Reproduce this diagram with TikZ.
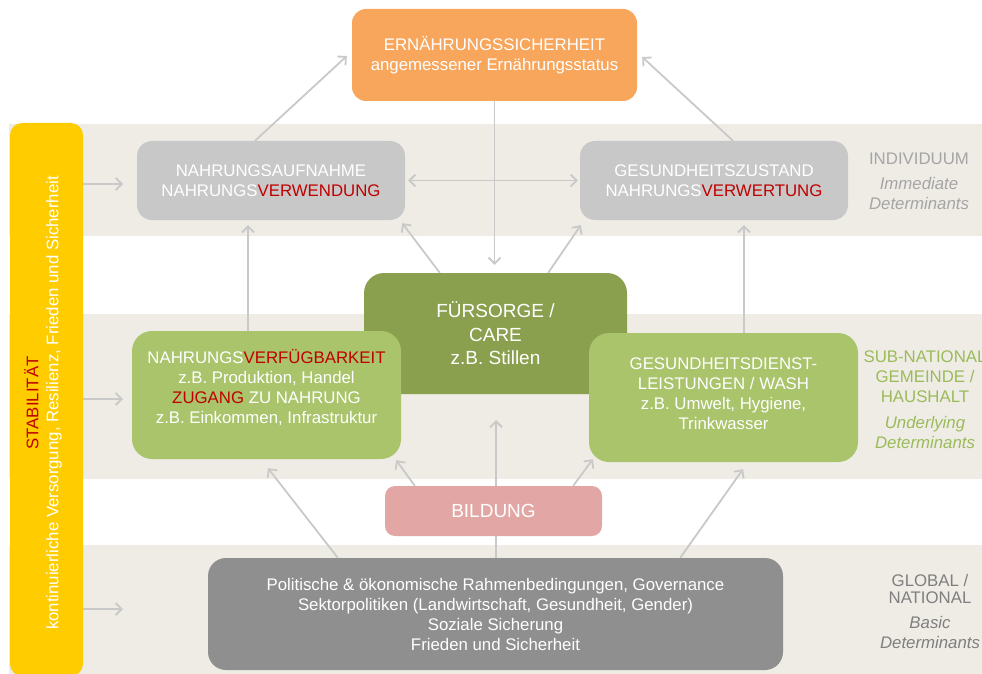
\documentclass[tikz,border=0pt]{standalone}
\usepackage{fontspec}
\setmainfont{Liberation Sans}
\usetikzlibrary{arrows.meta}
\definecolor{bandc}{HTML}{EFECE6}
\definecolor{orangec}{HTML}{F8A65B}
\definecolor{grayboxc}{HTML}{C8C8C8}
\definecolor{darkgc}{HTML}{8AA04E}
\definecolor{lightgc}{HTML}{A9C46B}
\definecolor{pinkc}{HTML}{E2A7A5}
\definecolor{basisc}{HTML}{8F8F8F}
\definecolor{yellowc}{HTML}{FFCC00}
\definecolor{redc}{HTML}{C00000}
\definecolor{arrowc}{HTML}{C9C9C9}
\definecolor{labgray}{HTML}{A5A5A5}
\definecolor{labdark}{HTML}{7F7F7F}
\definecolor{labgreen}{HTML}{9BBB59}
\begin{document}
\begin{tikzpicture}[x=1pt,y=-1pt,
  box/.style={rectangle, inner sep=0pt, align=center, text=white},
  txtA/.style={font={\fontsize{16.8}{20}\selectfont}},
  txtB/.style={font={\fontsize{19}{23.5}\selectfont}},
  lab/.style={align=center, inner sep=0pt, font={\fontsize{16.8}{20}\selectfont}},
  arr/.style={draw=arrowc, line width=1.8pt, -{Straight Barb[length=6pt,width=12pt]}},
  arrb/.style={draw=arrowc, line width=1.8pt, {Straight Barb[length=6pt,width=12pt]}-{Straight Barb[length=6pt,width=12pt]}},
  plainline/.style={draw=arrowc, line width=1.8pt}]
\useasboundingbox (0,0) rectangle (982,674);
\clip (0,0) rectangle (982,674);
% bands
\fill[bandc] (9,124) rectangle (982,236);
\fill[bandc] (9,314) rectangle (982,479);
\fill[bandc] (9,545) rectangle (982,674);
% stability bar
\node[fill=yellowc, rounded corners=12pt, minimum width=73pt, minimum height=553pt, inner sep=0pt] (stab) at (46.5,399.5) {};
\node[rotate=90, align=center, text=white, txtA, inner sep=0pt] (stabt) at (43,403)
  {\textcolor{redc}{STABILITÄT}\\kontinuierliche Versorgung, Resilienz, Frieden und Sicherheit};
% boxes
\node[box, txtA, fill=orangec, rounded corners=14pt, minimum width=285pt, minimum height=92pt] (ziel) at (494.5,55)
  {ERNÄHRUNGSSICHERHEIT\\angemessener Ernährungsstatus};
\node[box, txtA, fill=grayboxc, rounded corners=15pt, minimum width=268pt, minimum height=79pt] (aufn) at (271,180.5)
  {NAHRUNGSAUFNAHME\\NAHRUNGS\textcolor{redc}{VERWENDUNG}};
\node[box, txtA, fill=grayboxc, rounded corners=15pt, minimum width=268pt, minimum height=79pt] (gesz) at (714,180.5)
  {GESUNDHEITSZUSTAND\\NAHRUNGS\textcolor{redc}{VERWERTUNG}};
\node[box, txtB, fill=darkgc, rounded corners=20pt, minimum width=263pt, minimum height=121pt] (fuer) at (495.5,333.5)
  {FÜRSORGE /\\CARE\\z.B. Stillen};
\node[box, fill=lightgc, rounded corners=20pt, minimum width=269pt, minimum height=128pt] (verf) at (266.5,395) {};
\node[box, txtA] (verft) at (266.5,388)
  {NAHRUNGS\textcolor{redc}{VERFÜGBARKEIT}\\z.B. Produktion, Handel\\\textcolor{redc}{ZUGANG} ZU NAHRUNG\\z.B. Einkommen, Infrastruktur};
\node[box, fill=lightgc, rounded corners=20pt, minimum width=269pt, minimum height=129pt] (gdl) at (723.5,397.5) {};
\node[box, txtA] (gdlt) at (723.5,394)
  {GESUNDHEITSDIENST-\\LEISTUNGEN / WASH\\z.B. Umwelt, Hygiene,\\Trinkwasser};
\node[box, txtB, fill=pinkc, rounded corners=10pt, minimum width=217pt, minimum height=50pt] (bild) at (493.5,511) {BILDUNG};
\node[box, txtA, fill=basisc, rounded corners=18pt, minimum width=575pt, minimum height=112pt] (basis) at (495.5,614)
  {Politische \& ökonomische Rahmenbedingungen, Governance\\Sektorpolitiken (Landwirtschaft, Gesundheit, Gender)\\Soziale Sicherung\\Frieden und Sicherheit};
% right labels
\node[lab, text=labgray] (ind) at (919,181)
  {INDIVIDUUM\\[5pt]\textit{Immediate}\\\textit{Determinants}};
\node[lab, text=labgreen] (sub) at (925,400)
  {SUB-NATIONAL\\GEMEINDE /\\HAUSHALT\\[6pt]\textit{Underlying}\\\textit{Determinants}};
\node[lab, text=labdark] (glob) at (930,611)
  {GLOBAL /\\[-3pt]NATIONAL\\[5pt]\textit{Basic}\\\textit{Determinants}};
% arrows from stability bar
\coordinate (e1) at (123,184);
\coordinate (e2) at (123,399);
\coordinate (e3) at (123,609);
\draw[arr] (stab.east |- e1) -- (e1);
\draw[arr] (stab.east |- e2) -- (e2);
\draw[arr] (stab.east |- e3) -- (e3);
% arrows
\draw[arr] ([xshift=-16pt]aufn.north) -- ([xshift=-5pt,yshift=-1pt]ziel.west);
\draw[arr] ([xshift=19pt]gesz.north) -- ([xshift=5pt,yshift=-2pt]ziel.east);
\coordinate (c3) at ([yshift=8pt]fuer.north);
\draw[arr] (ziel.south) -- (ziel.south |- c3);
\draw[arrb] ([xshift=3pt]aufn.east) -- ([xshift=-2pt]gesz.west);
\draw[arr] ([xshift=-18.5pt]verf.north) -- ([xshift=-23pt,yshift=-5pt]aufn.south);
\draw[arr] ([xshift=76pt]fuer.north west) -- ([xshift=-3pt,yshift=-3pt]aufn.south east);
\draw[arr] ([xshift=-79pt]fuer.north east) -- ([xshift=1pt,yshift=-5pt]gesz.south west);
\draw[arr] ([xshift=20.5pt]gdl.north) -- ([xshift=30pt,yshift=-5pt]gesz.south);
\draw[arr] ([xshift=30pt]bild.north west) -- ([xshift=-5pt,yshift=-1pt]verf.south east);
\coordinate (c10) at (496,420);
\draw[arr] ([xshift=2.5pt]bild.north) -- (c10);
\draw[arr] ([xshift=-29pt]bild.north east) -- ([xshift=4pt,yshift=3pt]gdl.south west);
\draw[arr] ([xshift=130pt]basis.north west) -- ([xshift=1.5pt,yshift=-9pt]verf.south);
\draw[arr] ([xshift=-103pt]basis.north east) -- ([xshift=19.5pt,yshift=-7pt]gdl.south);
\draw[plainline] ([xshift=0.5pt]basis.north) -- ([xshift=2.5pt]bild.south);
\end{tikzpicture}
\end{document}
